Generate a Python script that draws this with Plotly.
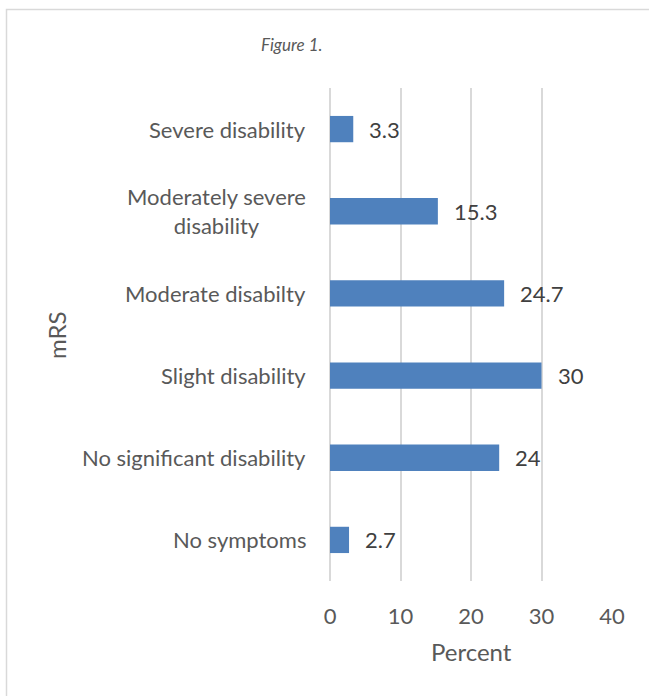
import plotly.graph_objects as go

categories = ["No symptoms", "No significant disability", "Slight disability",
              "Moderate disabilty", "Moderately severe<br>disability", "Severe disability"]
values = [2.7, 24, 30, 24.7, 15.3, 3.3]
value_labels = ["2.7", "24", "30", "24.7", "15.3", "3.3"]
x_ticks = [0, 10, 20, 30, 40]

W, H = 649, 696
ML, MR, MT, MB = 330, 37, 88, 115
PW, PH = W - ML - MR, H - MT - MB

FONT = "Lato"
TXT = "#595959"
GRID = "#D9D9D9"

def px_x(p):
    return (p - ML) / PW

def px_y(p):
    return (H - MB - p) / PH

fig = go.Figure()
fig.add_trace(go.Bar(
    y=list(range(len(categories))), x=values, orientation="h",
    marker=dict(color="#4F81BD", line=dict(width=0)),
    width=0.32, hoverinfo="skip",
))

ann = []
for i, c in enumerate(categories):
    ann.append(dict(x=px_x(308), xref="paper", y=i, yref="y", text=c,
                    xanchor="right", yanchor="middle", align="center",
                    showarrow=False, font=dict(family=FONT, size=22, color=TXT)))
for i, (v, t) in enumerate(zip(values, value_labels)):
    ann.append(dict(x=v, xref="x", y=i, yref="y", text=t, xanchor="left",
                    yanchor="middle", xshift=14, showarrow=False,
                    font=dict(family=FONT, size=22, color="#404040")))
ann.append(dict(x=0.5, xref="paper", y=px_y(651), yref="paper", text="Percent",
                xanchor="center", yanchor="middle", showarrow=False,
                font=dict(family=FONT, size=24, color=TXT)))
ann.append(dict(x=px_x(56), xref="paper", y=px_y(335), yref="paper", text="mRS",
                xanchor="center", yanchor="middle", textangle=-90, showarrow=False,
                font=dict(family=FONT, size=24, color=TXT)))
ann.append(dict(x=px_x(292), xref="paper", y=px_y(45), yref="paper", text="<i>Figure 1.</i>",
                xanchor="center", yanchor="middle", showarrow=False,
                font=dict(family=FONT, size=17, color=TXT)))

fig.update_layout(
    width=W, height=H, margin=dict(l=ML, r=MR, t=MT, b=MB),
    paper_bgcolor="white", plot_bgcolor="white", showlegend=False,
    annotations=ann,
    shapes=[dict(type="rect", xref="paper", yref="paper",
                 x0=px_x(6.5), x1=px_x(700), y0=px_y(760), y1=px_y(9.5),
                 line=dict(color=GRID, width=1.5), fillcolor="rgba(0,0,0,0)",
                 layer="below")],
    xaxis=dict(range=[0, 40], tickvals=x_ticks, showgrid=True, gridcolor=GRID,
               gridwidth=1.5, zeroline=True, zerolinecolor=GRID, zerolinewidth=1.5,
               showline=False,
               tickfont=dict(family=FONT, size=22, color=TXT), ticks="",
               ticklabelstandoff=20, fixedrange=True),
    yaxis=dict(range=[-0.5, 5.5], showticklabels=False, showgrid=False,
               zeroline=False, showline=False, ticks="", fixedrange=True),
)
fig.write_html("out.html")
